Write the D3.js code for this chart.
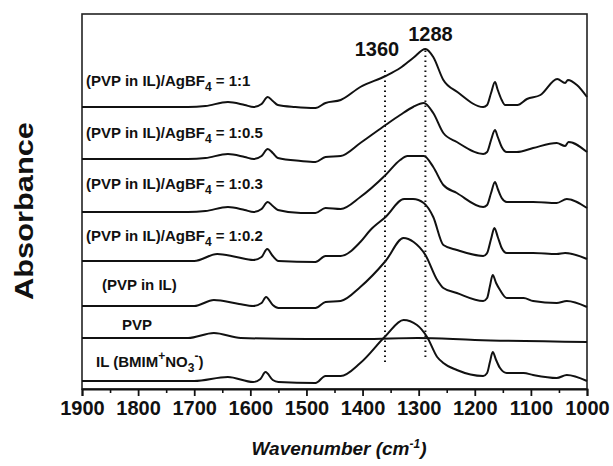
<!DOCTYPE html>
<html>
<head>
<meta charset="utf-8">
<script src="https://cdn.jsdelivr.net/npm/d3@7"></script>
<style>
  body { margin: 0; background: #fff; }
  text { font-family: "Liberation Sans", Arial, sans-serif; font-weight: bold; fill: #111; }
</style>
</head>
<body>
<div id="chart"></div>
<script>
// wavenumber (cm-1), absorbance (a.u., spectra stacked with offsets)
const ratio1_1 = [[1900,2.82],[1711,2.82],[1680,2.83],[1640,2.87],[1610,2.84],[1594,2.82],[1580,2.85],[1569,2.92],[1560,2.88],[1551,2.84],[1520,2.82],[1484,2.81],[1466,2.86],[1439,2.89],[1404,3.02],[1359,3.13],[1333,3.21],[1310,3.31],[1288,3.40],[1274,3.32],[1256,3.09],[1231,2.97],[1185,2.82],[1178,2.84],[1171,2.96],[1164,3.07],[1159,2.99],[1152,2.89],[1146,2.84],[1124,2.84],[1107,2.90],[1083,2.94],[1053,3.10],[1039,3.06],[1034,3.09],[1018,3.04],[1000,2.92]];
const ratio1_05 = [[1900,2.30],[1711,2.30],[1680,2.31],[1640,2.35],[1610,2.32],[1594,2.30],[1580,2.33],[1569,2.40],[1560,2.36],[1551,2.31],[1510,2.28],[1484,2.27],[1466,2.32],[1439,2.33],[1404,2.46],[1359,2.64],[1333,2.74],[1310,2.82],[1291,2.86],[1274,2.76],[1256,2.56],[1232,2.47],[1185,2.35],[1178,2.37],[1171,2.49],[1164,2.59],[1159,2.52],[1152,2.42],[1143,2.37],[1125,2.37],[1096,2.41],[1054,2.46],[1039,2.43],[1033,2.47],[1000,2.37]];
const ratio1_03 = [[1900,1.77],[1711,1.77],[1680,1.78],[1640,1.82],[1610,1.79],[1594,1.77],[1580,1.80],[1569,1.87],[1560,1.83],[1551,1.79],[1510,1.76],[1484,1.76],[1466,1.81],[1439,1.80],[1404,1.92],[1359,2.14],[1333,2.29],[1320,2.33],[1291,2.33],[1274,2.22],[1256,2.04],[1232,1.96],[1185,1.82],[1178,1.84],[1171,1.96],[1164,2.07],[1159,2.00],[1152,1.91],[1143,1.87],[1096,1.87],[1054,1.86],[1036,1.90],[1000,1.81]];
const ratio1_02 = [[1900,1.28],[1700,1.28],[1659,1.35],[1625,1.32],[1595,1.29],[1580,1.32],[1570,1.40],[1560,1.33],[1550,1.28],[1484,1.27],[1466,1.33],[1439,1.33],[1404,1.47],[1386,1.59],[1359,1.72],[1326,1.90],[1310,1.90],[1291,1.86],[1274,1.72],[1256,1.44],[1232,1.39],[1185,1.33],[1178,1.36],[1171,1.50],[1165,1.61],[1159,1.52],[1152,1.41],[1143,1.36],[1113,1.36],[1096,1.36],[1054,1.35],[1039,1.36],[1000,1.30]];
const pvpInIL = [[1900,0.83],[1700,0.83],[1665,0.89],[1620,0.85],[1595,0.83],[1580,0.86],[1572,0.92],[1560,0.84],[1550,0.81],[1484,0.81],[1466,0.87],[1439,0.88],[1404,1.02],[1359,1.28],[1327,1.51],[1309,1.47],[1288,1.34],[1267,1.09],[1256,1.01],[1232,0.96],[1185,0.88],[1178,0.91],[1173,1.03],[1168,1.14],[1162,1.06],[1155,0.99],[1143,0.91],[1113,0.91],[1096,0.88],[1054,0.86],[1036,0.88],[1000,0.82]];
const pvp = [[1900,0.51],[1711,0.51],[1665,0.56],[1617,0.51],[1500,0.50],[1400,0.50],[1302,0.51],[1200,0.49],[1000,0.47]];
const ionicLiquid = [[1900,0.08],[1700,0.08],[1640,0.12],[1595,0.07],[1582,0.10],[1573,0.17],[1560,0.09],[1550,0.07],[1484,0.06],[1466,0.13],[1439,0.13],[1404,0.26],[1359,0.53],[1327,0.69],[1303,0.64],[1285,0.52],[1267,0.32],[1256,0.26],[1232,0.19],[1185,0.13],[1178,0.16],[1173,0.27],[1168,0.37],[1162,0.29],[1155,0.21],[1143,0.16],[1113,0.16],[1096,0.14],[1054,0.11],[1036,0.14],[1000,0.08]];

const series = [ratio1_1, ratio1_05, ratio1_03, ratio1_02, pvpInIL, pvp, ionicLiquid];
const xTicks = [1900, 1800, 1700, 1600, 1500, 1400, 1300, 1200, 1100, 1000];
const xMinor = [1850, 1750, 1650, 1550, 1450, 1350, 1250, 1150, 1050];
const markers = [1360, 1288];

const width = 613, height = 466;
const margin = { top: 14, right: 26, bottom: 77, left: 82 };

const x = d3.scaleLinear().domain([1900, 1000]).range([margin.left, width - margin.right]);
const y = d3.scaleLinear().domain([0, 3.75]).range([height - margin.bottom, margin.top]);

const svg = d3.select("#chart").append("svg")
  .attr("width", width)
  .attr("height", height);

// frame
svg.append("rect")
  .attr("x", x(1900))
  .attr("y", y(3.75))
  .attr("width", x(1000) - x(1900))
  .attr("height", y(0) - y(3.75))
  .attr("fill", "none")
  .attr("stroke", "#222")
  .attr("stroke-width", 1.6);

// minor ticks
svg.append("g")
  .attr("transform", `translate(0,${y(0)})`)
  .call(d3.axisBottom(x).tickValues(xMinor).tickSize(4).tickFormat(""))
  .call(g => g.select(".domain").remove())
  .call(g => g.selectAll("line").attr("stroke", "#111").attr("stroke-width", 1.6));

const xAxis = svg.append("g")
  .attr("transform", `translate(0,${y(0)})`)
  .call(d3.axisBottom(x).tickValues(xTicks).tickSize(7).tickPadding(5).tickFormat(d3.format("d")));

xAxis.select(".domain").attr("stroke", "#111").attr("stroke-width", 1.8);
xAxis.selectAll("line").attr("stroke", "#111").attr("stroke-width", 1.8);
xAxis.selectAll("text")
  .attr("font-size", "20px")
  .attr("font-family", "'Liberation Sans', Arial, sans-serif")
  .attr("font-weight", "bold")
  .attr("fill", "#111");

// spectra
const line = d3.line()
  .x(d => x(d[0]))
  .y(d => y(d[1]))
  .curve(d3.curveMonotoneX);

svg.selectAll(".spectrum")
  .data(series)
  .enter()
  .append("path")
  .attr("class", "spectrum")
  .attr("d", line)
  .attr("fill", "none")
  .attr("stroke", "#111")
  .attr("stroke-width", 2);

// dotted marker lines
const markerSpan = { 1360: [0.27, 3.22], 1288: [0.32, 3.39] };
markers.forEach(m => {
  svg.append("line")
    .attr("x1", x(m)).attr("x2", x(m))
    .attr("y1", y(markerSpan[m][0])).attr("y2", y(markerSpan[m][1]))
    .attr("stroke", "#111")
    .attr("stroke-width", 2)
    .attr("stroke-dasharray", "1.5,3.5");
});

svg.append("text").attr("x", x(1360) - 8).attr("y", 56)
  .attr("text-anchor", "middle").attr("font-size", "20px").text("1360");
svg.append("text").attr("x", x(1288) + 5).attr("y", 41)
  .attr("text-anchor", "middle").attr("font-size", "20px").text("1288");

// trace labels
function agLabel(xp, yp, ratio) {
  const t = svg.append("text").attr("x", xp).attr("y", yp).attr("font-size", "15px");
  t.append("tspan").text("(PVP in IL)/AgBF");
  t.append("tspan").attr("dy", 5).attr("font-size", "12px").text("4");
  t.append("tspan").attr("dy", -5).text(" = " + ratio);
}
agLabel(86, 86, "1:1");
agLabel(86, 138, "1:0.5");
agLabel(86, 189, "1:0.3");
agLabel(86, 241, "1:0.2");

svg.append("text").attr("x", 102).attr("y", 290).attr("font-size", "15px").text("(PVP in IL)");
svg.append("text").attr("x", 122).attr("y", 330).attr("font-size", "15px").text("PVP");

const il = svg.append("text").attr("x", 96).attr("y", 367).attr("font-size", "15px");
il.append("tspan").text("IL (BMIM");
il.append("tspan").attr("dy", -7).attr("font-size", "12px").text("+");
il.append("tspan").attr("dy", 7).text("NO");
il.append("tspan").attr("dy", 5).attr("font-size", "12px").text("3");
il.append("tspan").attr("dy", -12).attr("font-size", "12px").text("-");
il.append("tspan").attr("dy", 7).text(")");

// axis titles
const xt = svg.append("text")
  .attr("x", 339).attr("y", 455)
  .attr("text-anchor", "middle")
  .attr("font-size", "19px")
  .attr("font-style", "italic");
xt.append("tspan").text("Wavenumber (cm");
xt.append("tspan").attr("dy", -7).attr("font-size", "12px").text("-1");
xt.append("tspan").attr("dy", 7).text(")");

svg.append("text")
  .attr("transform", "translate(33,211) rotate(-90)")
  .attr("text-anchor", "middle")
  .attr("font-size", "25px")
  .attr("textLength", 178)
  .attr("lengthAdjust", "spacingAndGlyphs")
  .text("Absorbance");
</script>
</body>
</html>
